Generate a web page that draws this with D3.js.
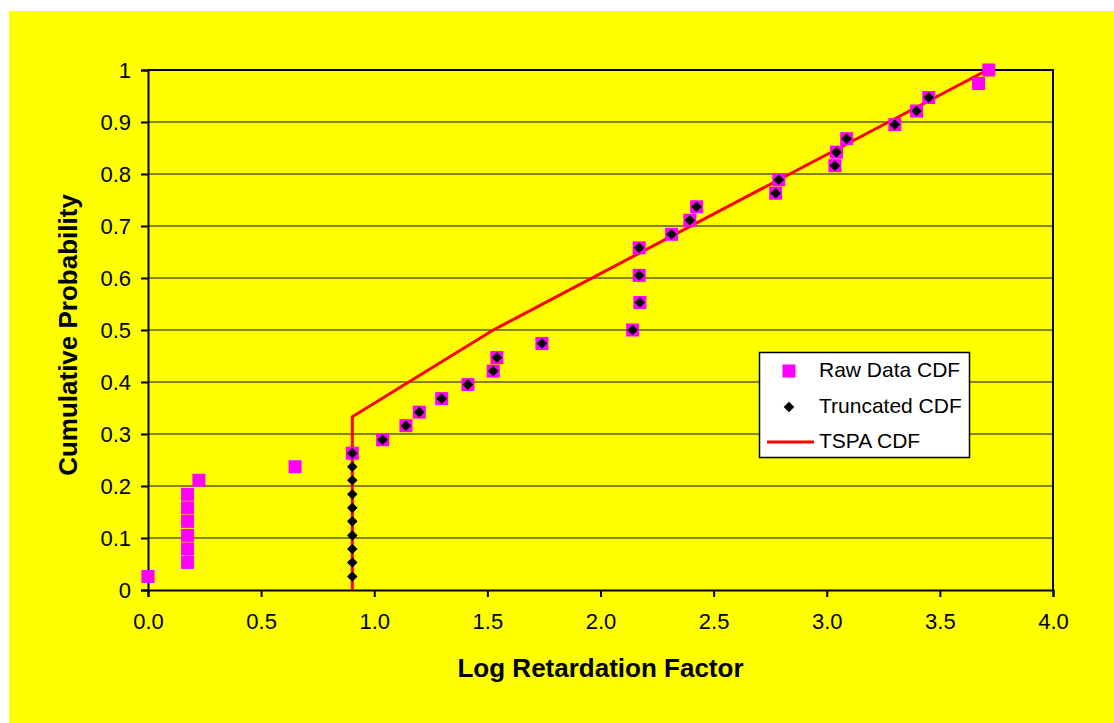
<!DOCTYPE html>
<html>
<head>
<meta charset="utf-8">
<script src="https://cdn.jsdelivr.net/npm/d3@7"></script>
<style>
  html, body { margin: 0; padding: 0; background: #ffffff; }
  svg { display: block; }
</style>
</head>
<body>
<svg id="chart" width="1114" height="723"></svg>
<script>
// Raw data empirical CDF (log retardation factor, cumulative probability)
const rawX = [0.000, 0.175, 0.175, 0.175, 0.175, 0.175, 0.175, 0.225, 0.650, 0.903,
              1.037, 1.140, 1.199, 1.298, 1.414, 1.526, 1.542, 1.741, 2.142, 2.174,
              2.171, 2.171, 2.314, 2.395, 2.425, 2.774, 2.788, 3.036, 3.043, 3.088,
              3.301, 3.397, 3.451, 3.671, 3.716];
const rawY = [0.026, 0.053, 0.079, 0.105, 0.132, 0.158, 0.184, 0.211, 0.237, 0.263,
              0.289, 0.316, 0.342, 0.368, 0.395, 0.421, 0.447, 0.474, 0.500, 0.553,
              0.605, 0.658, 0.684, 0.711, 0.737, 0.763, 0.789, 0.816, 0.842, 0.868,
              0.895, 0.921, 0.947, 0.974, 1.000];

// Truncated CDF: low values raised to the truncation point, top tail dropped
const truncX = [0.903, 0.903, 0.903, 0.903, 0.903, 0.903, 0.903, 0.903, 0.903, 0.903,
                1.037, 1.140, 1.199, 1.298, 1.414, 1.526, 1.542, 1.741, 2.142, 2.174,
                2.171, 2.171, 2.314, 2.395, 2.425, 2.774, 2.788, 3.036, 3.043, 3.088,
                3.301, 3.397, 3.451];
const truncY = [0.026, 0.053, 0.079, 0.105, 0.132, 0.158, 0.184, 0.211, 0.237, 0.263,
                0.289, 0.316, 0.342, 0.368, 0.395, 0.421, 0.447, 0.474, 0.500, 0.553,
                0.605, 0.658, 0.684, 0.711, 0.737, 0.763, 0.789, 0.816, 0.842, 0.868,
                0.895, 0.921, 0.947];

// TSPA piecewise-linear CDF
const tspaX = [0.903, 0.903, 1.526, 3.710];
const tspaY = [0.000, 0.333, 0.500, 1.000];

const xTicks = [0, 0.5, 1, 1.5, 2, 2.5, 3, 3.5, 4];
const xTickLabels = ["0.0", "0.5", "1.0", "1.5", "2.0", "2.5", "3.0", "3.5", "4.0"];
const yTicks = [0, 0.1, 0.2, 0.3, 0.4, 0.5, 0.6, 0.7, 0.8, 0.9, 1];
const yTickLabels = ["0", "0.1", "0.2", "0.3", "0.4", "0.5", "0.6", "0.7", "0.8", "0.9", "1"];

const legendLabels = ["Raw Data CDF", "Truncated CDF", "TSPA CDF"];

const FONT = "'Liberation Sans', Arial, sans-serif";
const svg = d3.select("#chart");

// chart background
svg.append("rect").attr("x", 9).attr("y", 11).attr("width", 1114 - 9).attr("height", 723 - 11)
  .attr("fill", "#ffff00");

const plot = { left: 148, right: 1053, top: 70, bottom: 590 };
const x = d3.scaleLinear().domain([0, 4]).range([plot.left, plot.right]);
const y = d3.scaleLinear().domain([0, 1]).range([plot.bottom, plot.top]);

// horizontal gridlines
svg.append("g").selectAll("line").data(yTicks.slice(1, -1)).join("line")
  .attr("x1", plot.left).attr("x2", plot.right)
  .attr("y1", d => y(d)).attr("y2", d => y(d))
  .attr("stroke", "#5e5e00").attr("stroke-width", 1.5);

// plot frame (top and right)
svg.append("path")
  .attr("d", `M${plot.left},${plot.top}H${plot.right}V${plot.bottom}`)
  .attr("fill", "none").attr("stroke", "#000").attr("stroke-width", 2);

// axes
const xAxis = d3.axisBottom(x).tickValues(xTicks)
  .tickFormat((d, i) => xTickLabels[i]).tickSize(7).tickPadding(16);
const gx = svg.append("g").attr("transform", `translate(0,${plot.bottom})`).call(xAxis);

const yAxis = d3.axisLeft(y).tickValues(yTicks)
  .tickFormat((d, i) => yTickLabels[i]).tickSize(7).tickPadding(10);
const gy = svg.append("g").attr("transform", `translate(${plot.left},0)`).call(yAxis);

[gx, gy].forEach(g => {
  g.select(".domain").attr("stroke", "#000").attr("stroke-width", 2);
  g.selectAll(".tick line").attr("stroke", "#000").attr("stroke-width", 2);
  g.selectAll(".tick text").attr("fill", "#000")
    .style("font-family", FONT).style("font-size", "22px");
});
gx.selectAll(".tick text").attr("dy", "0.71em");
gy.selectAll(".tick text").attr("dy", "0.36em");

// TSPA line
const line = d3.line().x(d => x(d[0])).y(d => y(d[1]));
svg.append("path")
  .datum(d3.zip(tspaX, tspaY))
  .attr("d", line)
  .attr("fill", "none").attr("stroke", "#ff0000").attr("stroke-width", 3);

// raw data squares
const sq = 13;
svg.append("g").selectAll("rect").data(d3.zip(rawX, rawY)).join("rect")
  .attr("x", d => x(d[0]) - sq / 2).attr("y", d => y(d[1]) - sq / 2)
  .attr("width", sq).attr("height", sq).attr("fill", "#ff00ff");

// truncated diamonds
const diamond = d3.symbol().type(d3.symbolSquare).size(56);
svg.append("g").selectAll("path").data(d3.zip(truncX, truncY)).join("path")
  .attr("d", diamond)
  .attr("transform", d => `translate(${x(d[0])},${y(d[1])}) rotate(45)`)
  .attr("fill", "#000");

// axis titles
svg.append("text").attr("x", (plot.left + plot.right) / 2).attr("y", 677)
  .attr("text-anchor", "middle")
  .style("font-family", FONT).style("font-size", "26px").style("font-weight", "bold")
  .text("Log Retardation Factor");
svg.append("text")
  .attr("transform", `translate(77,${(plot.top + plot.bottom) / 2 + 5}) rotate(-90)`)
  .attr("text-anchor", "middle")
  .style("font-family", FONT).style("font-size", "26px").style("font-weight", "bold")
  .text("Cumulative Probability");

// legend
const lg = svg.append("g");
lg.append("rect").attr("x", 759.5).attr("y", 352.5).attr("width", 210).attr("height", 105)
  .attr("fill", "#fff").attr("stroke", "#000").attr("stroke-width", 1.5);
const rowY = [371, 407, 442];
lg.append("rect").attr("x", 789 - sq / 2).attr("y", rowY[0] - sq / 2)
  .attr("width", sq).attr("height", sq).attr("fill", "#ff00ff");
lg.append("path").attr("d", diamond)
  .attr("transform", `translate(789,${rowY[1]}) rotate(45)`).attr("fill", "#000");
lg.append("line").attr("x1", 767).attr("x2", 814).attr("y1", rowY[2]).attr("y2", rowY[2])
  .attr("stroke", "#ff0000").attr("stroke-width", 3);
lg.selectAll("text.lab").data(legendLabels).join("text")
  .attr("class", "lab")
  .attr("x", 819).attr("y", (d, i) => rowY[i] + 6)
  .style("font-family", FONT).style("font-size", "21px").attr("fill", "#000")
  .text(d => d);
</script>
</body>
</html>
